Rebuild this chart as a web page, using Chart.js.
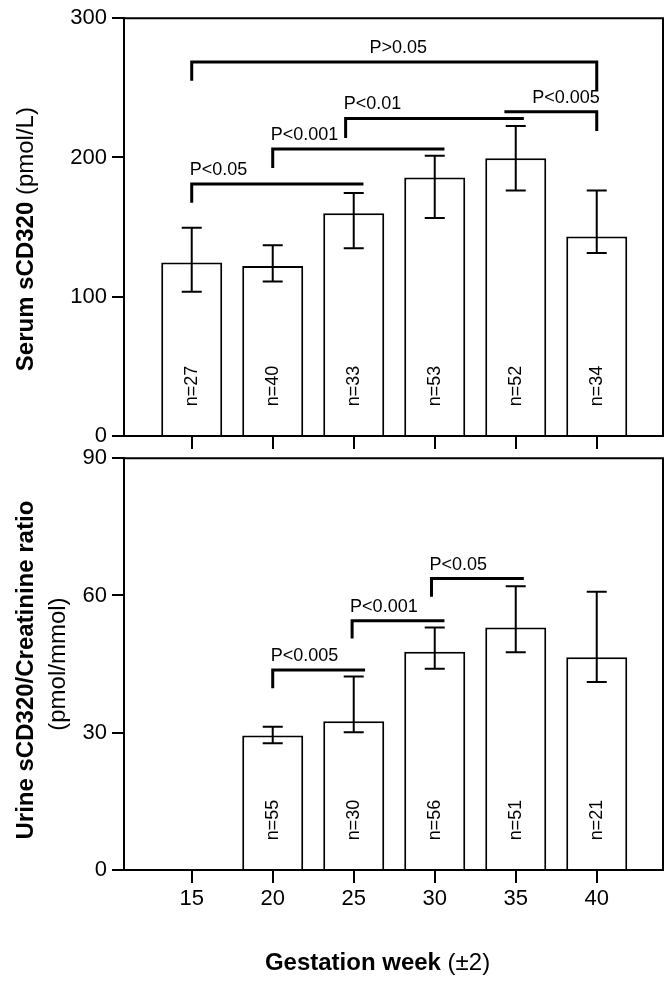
<!DOCTYPE html>
<html>
<head>
<meta charset="utf-8">
<script src="https://cdn.jsdelivr.net/npm/chart.js@4"></script>
<style>
  body { margin: 0; background: #fff; }
  #wrap { position: relative; width: 672px; height: 981px; }
  canvas { position: absolute; left: 0; }
  #serum { top: 0; }
  #urine { top: 440px; }
</style>
</head>
<body>
<div id="wrap">
  <canvas id="serum" width="672" height="455"></canvas>
  <canvas id="urine" width="672" height="541"></canvas>
</div>
<script>
var weeks = [15, 20, 25, 30, 35, 40];

var serumMedian = [124.5, 122, 160, 185.7, 199.5, 143.3];
var serumLow = [103.6, 111, 134.8, 156.6, 176.2, 131.4];
var serumHigh = [149.5, 137, 174.5, 201.2, 222.6, 176.2];
var serumN = [27, 40, 33, 53, 52, 34];
var serumTicks = [0, 100, 200, 300];

var urineMedian = [null, 29.4, 32.5, 47.7, 53.0, 46.5];
var urineLow = [null, 27.7, 30.1, 44.0, 47.6, 41.1];
var urineHigh = [null, 31.3, 42.3, 53.0, 62.0, 60.8];
var urineN = [null, 55, 30, 56, 51, 21];
var urineTicks = [0, 30, 60, 90];

// [from week, to week, bar level, left leg end, right leg end, text, text anchor]
var serumBrackets = [
  [15, 40, 268.6, 255, 248.3, 'P>0.05', 'center'],
  [24.5, 35.5, 228, 214, null, 'P<0.01', 'left'],
  [20, 30.6, 206, 192.4, null, 'P<0.001', 'left'],
  [15, 25.6, 181, 167.4, null, 'P<0.05', 'left'],
  [34.3, 40, 232.9, null, 219, 'P<0.005', 'right']
];
var urineBrackets = [
  [20, 25.7, 43.7, 39.7, null, 'P<0.005', 'left'],
  [24.9, 30.6, 54.5, 50.6, null, 'P<0.001', 'left'],
  [29.8, 35.5, 63.7, 59.7, null, 'P<0.05', 'left']
];

var FONT = '"Liberation Sans", Arial, sans-serif';

function drawParts(ctx, parts, cx, cy, angle) {
  ctx.save();
  ctx.translate(cx, cy);
  ctx.rotate(angle);
  ctx.textBaseline = 'middle';
  ctx.textAlign = 'left';
  var total = 0, widths = [];
  parts.forEach(function (p) {
    ctx.font = p[1];
    var w = ctx.measureText(p[0]).width;
    widths.push(w);
    total += w;
  });
  var pos = -total / 2;
  parts.forEach(function (p, i) {
    ctx.font = p[1];
    ctx.fillText(p[0], pos, 0);
    pos += widths[i];
  });
  ctx.restore();
}

function extras(low, high, counts, brackets, titles) {
  return {
    id: 'extras',
    afterDatasetsDraw: function (chart) {
      var ctx = chart.ctx, xs = chart.scales.x, ys = chart.scales.y, area = chart.chartArea;
      ctx.save();
      ctx.strokeStyle = '#000';
      ctx.fillStyle = '#000';

      // frame on top and right
      ctx.lineWidth = 2;
      ctx.beginPath();
      ctx.moveTo(area.left, area.top);
      ctx.lineTo(area.right, area.top);
      ctx.lineTo(area.right, area.bottom);
      ctx.stroke();

      // error bars
      weeks.forEach(function (w, i) {
        if (low[i] == null) return;
        var px = xs.getPixelForValue(w);
        var y1 = ys.getPixelForValue(low[i]);
        var y2 = ys.getPixelForValue(high[i]);
        ctx.beginPath();
        ctx.moveTo(px, y1); ctx.lineTo(px, y2);
        ctx.moveTo(px - 10, y1); ctx.lineTo(px + 10, y1);
        ctx.moveTo(px - 10, y2); ctx.lineTo(px + 10, y2);
        ctx.stroke();
      });

      // n= labels inside the bars
      ctx.font = '18px ' + FONT;
      weeks.forEach(function (w, i) {
        if (counts[i] == null) return;
        ctx.save();
        ctx.translate(xs.getPixelForValue(w), area.bottom - 50);
        ctx.rotate(-Math.PI / 2);
        ctx.textAlign = 'center';
        ctx.textBaseline = 'middle';
        ctx.fillText('n=' + counts[i], 0, 0);
        ctx.restore();
      });

      // significance brackets
      ctx.lineWidth = 3;
      brackets.forEach(function (b) {
        var x1 = xs.getPixelForValue(b[0]), x2 = xs.getPixelForValue(b[1]);
        var yb = ys.getPixelForValue(b[2]);
        ctx.beginPath();
        if (b[3] != null) { ctx.moveTo(x1, ys.getPixelForValue(b[3])); ctx.lineTo(x1, yb); }
        else ctx.moveTo(x1, yb);
        ctx.lineTo(x2, yb);
        if (b[4] != null) ctx.lineTo(x2, ys.getPixelForValue(b[4]));
        ctx.stroke();
        ctx.font = '18px ' + FONT;
        ctx.textBaseline = 'middle';
        ctx.textAlign = b[6];
        var tx = b[6] === 'left' ? x1 - 2 : (b[6] === 'right' ? x2 + 3 : (x1 + x2) / 2 + 4);
        ctx.fillText(b[5], tx, yb - 14);
      });
      ctx.restore();

      titles(ctx, area);
    }
  };
}

function scales(yTicks, showX) {
  return {
    x: {
      type: 'linear',
      min: 10.82,
      max: 44.09,
      offset: false,
      afterBuildTicks: function (s) { s.ticks = weeks.map(function (v) { return { value: v }; }); },
      afterFit: function (s) { s.height = showX ? 111 : 19; },
      grid: { display: true, drawOnChartArea: false, drawTicks: true, tickLength: 13, color: '#000', lineWidth: 2, offset: false },
      border: { display: true, color: '#000', width: 2 },
      ticks: { display: showX, color: '#000', font: { family: FONT, size: 22 }, padding: 3, maxRotation: 0, autoSkip: false }
    },
    y: {
      min: yTicks[0],
      max: yTicks[yTicks.length - 1],
      afterBuildTicks: function (s) { s.ticks = yTicks.map(function (v) { return { value: v }; }); },
      afterFit: function (s) { s.width = 124; },
      grid: { display: true, drawOnChartArea: false, drawTicks: true, tickLength: 12, color: '#000', lineWidth: 2 },
      border: { display: true, color: '#000', width: 2 },
      ticks: { color: '#000', font: { family: FONT, size: 22 }, padding: 5 }
    }
  };
}

function barData(values) {
  return {
    datasets: [{
      data: weeks.map(function (w, i) { return { x: w, y: values[i] }; }),
      backgroundColor: '#fff',
      borderColor: '#000',
      borderWidth: 2,
      categoryPercentage: 1,
      barPercentage: 0.753
    }]
  };
}

var commonOptions = {
  responsive: false,
  animation: false,
  devicePixelRatio: 1,
  plugins: { legend: { display: false }, tooltip: { enabled: false } }
};

var serumChart = new Chart(document.getElementById('serum'), {
  type: 'bar',
  data: barData(serumMedian),
  options: Object.assign({}, commonOptions, {
    layout: { padding: { top: 16, right: 9, left: 0, bottom: 0 } },
    scales: scales(serumTicks, false)
  }),
  plugins: [extras(serumLow, serumHigh, serumN, serumBrackets, function (ctx, area) {
    ctx.fillStyle = '#000';
    drawParts(ctx, [['Serum sCD320', 'bold 24px ' + FONT], [' (pmol/L)', '24px ' + FONT]],
      26, (area.top + area.bottom) / 2 + 12, -Math.PI / 2);
  })]
});

var urineChart = new Chart(document.getElementById('urine'), {
  type: 'bar',
  data: barData(urineMedian),
  options: Object.assign({}, commonOptions, {
    layout: { padding: { top: 14, right: 9, left: 0, bottom: 0 } },
    scales: scales(urineTicks, true)
  }),
  plugins: [extras(urineLow, urineHigh, urineN, urineBrackets, function (ctx, area) {
    var mid = (area.top + area.bottom) / 2;
    ctx.fillStyle = '#000';
    drawParts(ctx, [['Urine sCD320/Creatinine ratio', 'bold 24px ' + FONT]], 26, mid + 6, -Math.PI / 2);
    drawParts(ctx, [['(pmol/mmol)', '24px ' + FONT]], 58, mid, -Math.PI / 2);
    drawParts(ctx, [['Gestation week', 'bold 24px ' + FONT], [' (\u00b12)', '24px ' + FONT]],
      (area.left + area.right) / 2 - 16, area.bottom + 93, 0);
  })]
});
</script>
</body>
</html>
